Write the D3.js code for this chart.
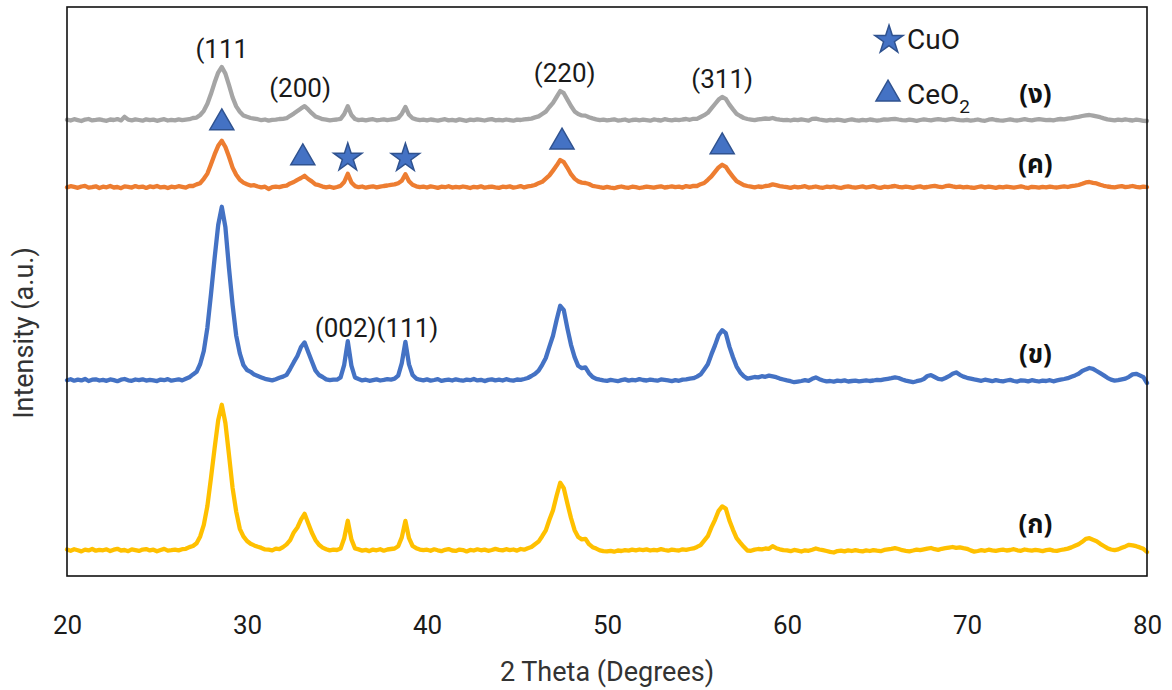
<!DOCTYPE html>
<html>
<head>
<meta charset="utf-8">
<script src="https://cdn.jsdelivr.net/npm/d3@7"></script>
<style>
  html, body { margin: 0; padding: 0; background: #fff; }
  svg { display: block; font-family: "Segoe UI", Roboto, "Open Sans", sans-serif; }
  .thai { font-family: "Leelawadee UI", "Noto Sans Thai", "Tahoma", "Noto Sans", sans-serif; font-weight: bold; }
</style>
</head>
<body>
<svg id="chart" width="1172" height="690"></svg>
<script>
// XRD scans, 2θ = 20°..80° sampled every 0.2° (301 points per pattern)
const scanStart = 20;
const scanStep = 0.2;

// (ก)
const patternA = [
  205, 192, 208, 198, 186, 204, 196, 210, 193, 201,
  197, 207, 189, 203, 212, 195, 200, 188, 206, 199,
  191, 204, 209, 196, 203, 187, 200, 211, 194, 198,
  203, 196, 208, 212, 229, 240, 268, 336, 452, 640,
  922, 1218, 1498, 1652, 1470, 1150, 820, 584, 412, 336,
  290, 262, 246, 232, 221, 206, 203, 196, 214, 208,
  229, 256, 298, 376, 425, 503, 562, 468, 375, 301,
  252, 224, 208, 196, 203, 200, 214, 318, 492, 306,
  216, 206, 194, 201, 189, 204, 197, 208, 193, 205,
  210, 215, 238, 326, 491, 318, 240, 218, 204, 198,
  203, 192, 207, 197, 188, 202, 209, 195, 191, 204,
  199, 186, 201, 195, 207, 197, 204, 192, 200, 211,
  202, 196, 208, 199, 205, 194, 210, 203, 218, 230,
  258, 284, 338, 396, 502, 598, 742, 872, 818, 664,
  520, 398, 330, 306, 312, 258, 228, 214, 196, 188,
  186, 192, 183, 195, 190, 198, 194, 203, 196, 205,
  199, 206, 195, 202, 197, 209, 200, 193, 204, 198,
  195, 207, 201, 210, 216, 231, 249, 294, 338, 426,
  502, 592, 636, 614, 495, 402, 318, 274, 232, 195,
  192, 204, 210, 206, 215, 212, 238, 218, 207, 199,
  196, 188, 201, 194, 185, 197, 192, 203, 215, 205,
  198, 190, 181, 175, 189, 194, 186, 197, 190, 198,
  192, 187, 196, 190, 199, 193, 188, 201, 206, 211,
  218, 210, 198, 192, 187, 195, 204, 198, 206, 214,
  220, 208, 201, 212, 218, 224, 230, 221, 227, 219,
  212, 196, 184, 190, 198, 192, 203, 196, 191, 198,
  204, 195, 200, 208, 197, 192, 205, 199, 194, 201,
  196, 189, 198, 203, 194, 192, 200, 206, 214, 226,
  242, 258, 282, 312, 318, 302, 288, 262, 240, 218,
  205, 198, 206, 222, 236, 252, 246, 238, 226, 212,
  180
];

// (ข)
const patternB = [
  198, 208, 193, 204, 196, 211, 190, 203, 207, 195,
  201, 192, 206, 199, 188, 203, 210, 197, 192, 205,
  199, 207, 194, 202, 196, 189, 204, 198, 209, 193,
  200, 207, 196, 212, 228, 256, 282, 360, 490, 724,
  1060, 1418, 1750, 1932, 1728, 1318, 950, 644, 466, 350,
  300, 282, 254, 240, 226, 212, 204, 196, 208, 222,
  234, 252, 312, 378, 440, 530, 576, 480, 388, 296,
  250, 230, 206, 198, 204, 203, 226, 352, 588, 344,
  225, 210, 196, 203, 192, 199, 206, 195, 201, 208,
  204, 213, 244, 368, 582, 356, 250, 214, 203, 197,
  206, 194, 200, 209, 191, 198, 203, 195, 207, 199,
  193, 204, 198, 210, 196, 202, 189, 201, 206, 197,
  203, 195, 208, 199, 194, 205, 201, 210, 220, 240,
  262, 294, 352, 420, 534, 642, 800, 942, 898, 716,
  552, 428, 342, 318, 326, 268, 230, 212, 203, 196,
  192, 201, 195, 188, 199, 206, 194, 202, 197, 209,
  200, 195, 204, 198, 193, 206, 201, 196, 189, 199,
  192, 204, 206, 213, 218, 234, 256, 306, 358, 456,
  546, 648, 698, 668, 534, 428, 334, 276, 238, 214,
  222, 230, 226, 238, 232, 244, 236, 228, 214, 205,
  196, 188, 178, 184, 190, 198, 192, 212, 226, 208,
  195, 186, 190, 184, 193, 188, 196, 185, 190, 194,
  186, 192, 197, 190, 195, 202, 198, 206, 212, 218,
  226, 220, 205, 194, 186, 178, 188, 196, 210, 240,
  248, 230, 212, 205, 220, 238, 262, 276, 252, 234,
  222, 214, 206, 199, 192, 203, 196, 188, 199, 192,
  186, 195, 201, 190, 184, 197, 193, 186, 198, 191,
  185, 194, 190, 198, 187, 196, 204, 210, 218, 232,
  246, 262, 290, 306, 320, 312, 290, 268, 246, 222,
  204, 194, 198, 206, 214, 232, 256, 262, 246, 228,
  170
];

// (ค)
const patternC = [
  196, 208, 201, 192, 205, 211, 194, 199, 207, 190,
  203, 197, 210, 195, 200, 188, 206, 201, 194, 209,
  198, 204, 191, 206, 199, 210, 196, 202, 189, 203,
  197, 208, 201, 194, 212, 210, 226, 238, 282, 334,
  428, 526, 612, 662, 600, 502, 394, 322, 272, 244,
  228, 214, 218, 205, 196, 203, 180, 198, 203, 199,
  209, 214, 236, 250, 272, 290, 312, 280, 256, 226,
  218, 204, 196, 203, 192, 200, 211, 250, 332, 246,
  209, 198, 205, 193, 201, 207, 196, 203, 210, 215,
  222, 226, 238, 262, 328, 258, 222, 207, 199, 204,
  195, 206, 200, 191, 203, 198, 208, 194, 201, 196,
  205, 199, 190, 202, 196, 207, 193, 200, 204, 197,
  191, 203, 198, 206, 194, 200, 209, 196, 206, 212,
  220, 238, 252, 284, 316, 364, 414, 470, 448, 392,
  328, 284, 256, 244, 240, 230, 212, 205, 198, 192,
  201, 194, 188, 199, 205, 196, 192, 203, 198, 190,
  196, 204, 199, 193, 201, 207, 195, 200, 206, 198,
  203, 194, 209, 201, 211, 210, 228, 240, 272, 306,
  352, 396, 422, 402, 348, 302, 258, 238, 218, 210,
  203, 196, 205, 200, 210, 214, 226, 218, 209, 203,
  198, 191, 203, 196, 201, 208, 194, 199, 205, 197,
  192, 203, 198, 205, 196, 190, 201, 207, 199, 193,
  200, 206, 195, 202, 209, 197, 191, 203, 198, 205,
  210, 202, 196, 204, 199, 192, 201, 206, 195, 200,
  207, 212, 203, 198, 208, 214, 206, 199, 203, 196,
  202, 195, 191, 200, 206, 197, 203, 198, 192, 201,
  196, 204, 199, 193, 200, 207, 197, 190, 202, 198,
  193, 201, 196, 204, 199, 195, 202, 207, 200, 209,
  214, 220, 232, 246, 250, 241, 236, 222, 212, 205,
  200, 196, 203, 208, 199, 204, 210, 201, 196, 204,
  198
];

// (ง)
const patternD = [
  203, 195, 208, 199, 190, 204, 210, 196, 201, 207,
  198, 192, 205, 200, 209, 196, 232, 203, 197, 206,
  200, 193, 207, 198, 204, 192, 201, 208, 195, 202,
  197, 206, 199, 204, 208, 220, 224, 250, 292, 362,
  462, 574, 674, 730, 664, 548, 426, 336, 282, 246,
  232, 220, 214, 208, 198, 205, 194, 201, 204, 210,
  212, 218, 242, 264, 290, 316, 338, 306, 268, 236,
  222, 208, 203, 196, 201, 205, 212, 258, 338, 250,
  210, 199, 204, 196, 203, 208, 197, 201, 206, 199,
  205, 208, 220, 262, 330, 252, 218, 206, 199, 203,
  197, 205, 200, 193, 202, 208, 196, 201, 194, 206,
  199, 192, 204, 198, 207, 201, 195, 203, 209, 197,
  202, 196, 205, 199, 193, 204, 200, 207, 210, 214,
  226, 236, 260, 284, 330, 372, 430, 490, 468, 404,
  340, 286, 260, 246, 244, 228, 216, 206, 198, 203,
  196, 201, 207, 194, 199, 205, 192, 200, 204, 197,
  203, 198, 193, 206, 200, 195, 208, 201, 197, 204,
  199, 205, 210, 202, 212, 212, 230, 248, 272, 316,
  360, 404, 430, 412, 354, 306, 262, 240, 220, 210,
  204, 198, 207, 210, 215, 212, 220, 209, 203, 198,
  201, 195, 203, 198, 206, 200, 194, 212, 214, 205,
  199, 193, 201, 196, 204, 198, 191, 200, 206, 199,
  194, 202, 197, 205, 200, 193, 199, 207, 203, 208,
  212, 205, 199, 196, 203, 198, 192, 200, 206, 201,
  197, 204, 209, 203, 198, 206, 212, 204, 199, 196,
  201, 194, 199, 205, 197, 192, 203, 208, 200, 196,
  193, 200, 206, 199, 195, 202, 208, 201, 196, 203,
  209, 204, 198, 202, 196, 205, 210, 207, 214, 219,
  226, 232, 240, 246, 250, 244, 236, 228, 216, 206,
  201, 196, 204, 199, 206, 200, 195, 203, 198, 192,
  190
];

// Sample names, vertical stacking offsets (counts) and colours
const sampleNames = ["(ก)", "(ข)", "(ค)", "(ง)"];
const sampleOffsets = [0, 1700, 3630, 4300];
const sampleColors = ["#FFC000", "#4472C4", "#ED7D31", "#A5A5A5"];
const patterns = [patternA, patternB, patternC, patternD];

// x-axis ticks
const xTicks = [20, 30, 40, 50, 60, 70, 80];

// Miller indices of CeO2 reflections, labelled over pattern (ง)
const hklText = ["(111", "(200)", "(220)", "(311)"];
const hklTheta = [28.6, 32.95, 47.65, 56.4];
// CuO reflections labelled over pattern (ข)
const cuoHklText = "(002)(111)";
const cuoHklTheta = 37.2;

// Phase markers over pattern (ค)
const ceo2Theta = [28.6, 33.1, 47.5, 56.4];
const cuoTheta = [35.6, 38.8];

// ---------------------------------------------------------------
const W = 1172, H = 690;
const margin = { left: 67, right: 25, top: 7, bottom: 114 };
const svg = d3.select("#chart");

const x = d3.scaleLinear().domain([20, 80]).range([margin.left, W - margin.right]);
const y = d3.scaleLinear().domain([-60, 5630]).range([H - margin.bottom, margin.top]);

const thetaAt = i => scanStart + i * scanStep;
const series = patterns.map((vals, k) => vals.map((v, i) => ({ t: thetaAt(i), v: v + sampleOffsets[k] })));

// local maximum of a pattern around a given angle
function peakValue(k, theta, half = 0.5) {
  return d3.max(series[k].filter(d => Math.abs(d.t - theta) <= half), d => d.v);
}

// traces
const line = d3.line().x(d => x(d.t)).y(d => y(d.v));
svg.append("g")
  .selectAll("path")
  .data(series)
  .join("path")
  .attr("d", line)
  .attr("fill", "none")
  .attr("stroke", (d, k) => sampleColors[k])
  .attr("stroke-width", 4.3)
  .attr("stroke-linejoin", "round")
  .attr("stroke-linecap", "round");

// plot frame
svg.append("rect")
  .attr("x", margin.left).attr("y", margin.top)
  .attr("width", W - margin.left - margin.right)
  .attr("height", H - margin.top - margin.bottom)
  .attr("fill", "none").attr("stroke", "#111").attr("stroke-width", 1.6);

// x axis (labels only)
const xAxis = d3.axisBottom(x).tickValues(xTicks).tickSize(0).tickPadding(40).tickFormat(d3.format("d"));
const gx = svg.append("g").attr("transform", `translate(0,${H - margin.bottom})`).call(xAxis);
gx.select(".domain").remove();
gx.selectAll("text").attr("font-size", 26).attr("fill", "#1a1a1a")
  .attr("font-family", "'Segoe UI', Roboto, 'Open Sans', sans-serif");

// axis titles
svg.append("text")
  .attr("x", (margin.left + W - margin.right) / 2).attr("y", 681)
  .attr("text-anchor", "middle").attr("font-size", 27).attr("fill", "#333")
  .text("2 Theta (Degrees)");
svg.append("text")
  .attr("transform", "translate(33,333) rotate(-90)")
  .attr("text-anchor", "middle").attr("font-size", 27).attr("fill", "#333")
  .text("Intensity (a.u.)");

// sample labels
svg.append("g").selectAll("text")
  .data(sampleNames)
  .join("text")
  .attr("class", "thai")
  .attr("x", x(73.8))
  .attr("y", (d, k) => y(200 + sampleOffsets[k]) - (k === 2 ? 14 : 17))
  .attr("text-anchor", "middle")
  .attr("font-size", 26)
  .attr("fill", "#111")
  .text(d => d);

// hkl labels over (ง)
svg.append("g").selectAll("text")
  .data(hklText)
  .join("text")
  .attr("x", (d, i) => x(hklTheta[i]))
  .attr("y", (d, i) => y(peakValue(3, hklTheta[i], 0.6)) - 9)
  .attr("text-anchor", "middle")
  .attr("font-size", 26)
  .attr("fill", "#1a1a1a")
  .text(d => d);

svg.append("text")
  .attr("x", x(cuoHklTheta))
  .attr("y", y(d3.max(series[1].filter(d => d.t > 35 && d.t < 39.4), d => d.v)) - 4)
  .attr("text-anchor", "middle")
  .attr("font-size", 26)
  .attr("fill", "#1a1a1a")
  .text(cuoHklText);

// phase markers
const markFill = "#4472C4", markStroke = "#2F528F";
const tri = d3.symbol().type(d3.symbolTriangle).size(250);
const star = d3.symbol().type(d3.symbolStar).size(250);

svg.append("g").selectAll("path")
  .data(ceo2Theta)
  .join("path")
  .attr("d", tri)
  .attr("transform", t => `translate(${x(t)},${y(peakValue(2, t, 0.4)) - 18})`)
  .attr("fill", markFill).attr("stroke", markStroke).attr("stroke-width", 1.5);

svg.append("g").selectAll("path")
  .data(cuoTheta)
  .join("path")
  .attr("d", star)
  .attr("transform", t => `translate(${x(t)},${y(peakValue(2, t, 0.3)) - 16})`)
  .attr("fill", markFill).attr("stroke", markStroke).attr("stroke-width", 1.5);

// legend
const lg = svg.append("g");
lg.append("path").attr("d", star).attr("transform", "translate(889,40)")
  .attr("fill", markFill).attr("stroke", markStroke).attr("stroke-width", 1.5);
lg.append("text").attr("x", 907).attr("y", 49).attr("font-size", 28).attr("fill", "#1a1a1a").text("CuO");
lg.append("path").attr("d", tri).attr("transform", "translate(888,94)")
  .attr("fill", markFill).attr("stroke", markStroke).attr("stroke-width", 1.5);
const ceo2 = lg.append("text").attr("x", 907).attr("y", 104).attr("font-size", 28).attr("fill", "#1a1a1a");
ceo2.append("tspan").text("CeO");
ceo2.append("tspan").attr("font-size", 19).attr("dy", 9).text("2");
</script>
</body>
</html>
